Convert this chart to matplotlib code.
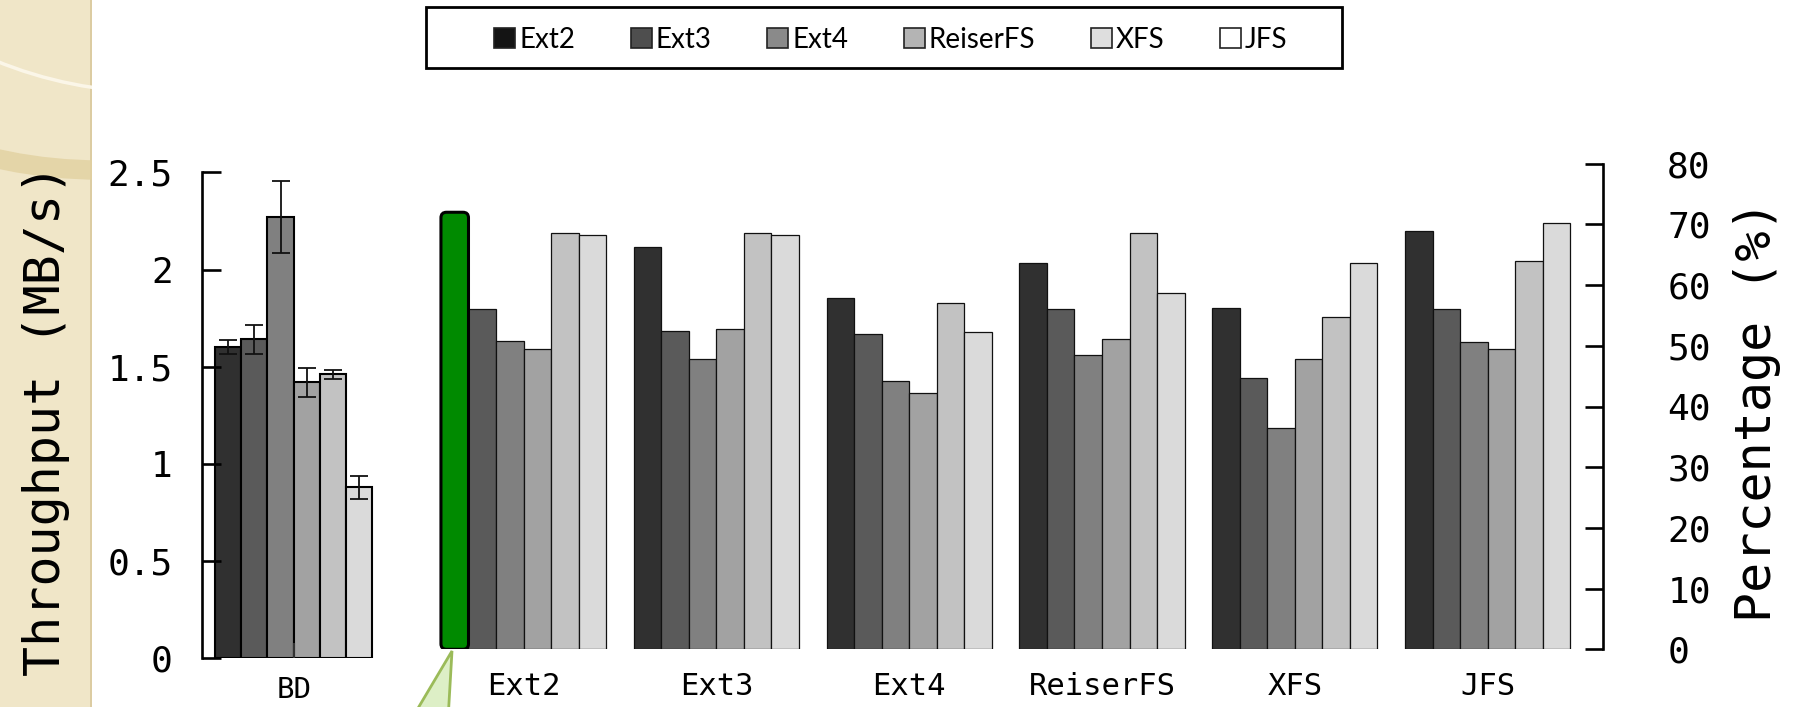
import matplotlib.pyplot as plt
from matplotlib.patches import Rectangle, Polygon, Ellipse, Patch, FancyBboxPatch

# ---------------------------------------------
# data
# ---------------------------------------------
fs_names = ['Ext2', 'Ext3', 'Ext4', 'ReiserFS', 'XFS', 'JFS']
groups = ['Ext2', 'Ext3', 'Ext4', 'ReiserFS', 'XFS', 'JFS']

# block device throughput (MB/s) with spread
bd_throughput = [1.60, 1.64, 2.27, 1.42, 1.46, 0.88]
bd_err = [0.035, 0.075, 0.185, 0.075, 0.024, 0.06]

# percentage per file system, one value per group
pct_ext2 = [72.0, 66.3, 57.9, 63.6, 56.3, 68.9]
pct_ext3 = [56.1, 52.5, 51.9, 56.1, 44.7, 56.1]
pct_ext4 = [50.8, 47.8, 44.2, 48.5, 36.5, 50.7]
pct_reiserfs = [49.4, 52.8, 42.2, 51.1, 47.9, 49.4]
pct_xfs = [68.6, 68.6, 57.1, 68.6, 54.8, 64.0]
pct_jfs = [68.3, 68.3, 52.3, 58.7, 63.6, 70.2]
pct_series = [pct_ext2, pct_ext3, pct_ext4, pct_reiserfs, pct_xfs, pct_jfs]

left_ticks = [0, 0.5, 1, 1.5, 2, 2.5]
left_ticklabels = ['0', '0.5', '1', '1.5', '2', '2.5']
right_ticks = [0, 10, 20, 30, 40, 50, 60, 70, 80]

bar_colors = ['#303030', '#5a5a5a', '#808080', '#a2a2a2', '#c2c2c2', '#dadada']
key_colors = ['#141414', '#4e4e4e', '#8a8a8a', '#b4b4b4', '#dedede', '#ffffff']

# ---------------------------------------------
# figure, pixel helpers
# ---------------------------------------------
W, H = 1811, 707
fig = plt.figure(figsize=(W / 100, H / 100), dpi=100)
fig.patch.set_facecolor('white')


def box(x0, y0, x1, y1):
    # pixel box (y down) -> figure fraction rect
    return [x0 / W, (H - y1) / H, (x1 - x0) / W, (y1 - y0) / H]


def pt(x, y):
    return (x / W, 1 - y / H)


mono = 'DejaVu Sans Mono'

# beige side strip with a couple of ring arcs (kept behind the axes)
strip = Rectangle((0, 0), 92 / W, 1, transform=fig.transFigure,
                  facecolor='#F0E6C8', edgecolor='none', zorder=-3)
fig.patches.append(strip)
fig.patches.append(Rectangle((90 / W, 0), 2 / W, 1, transform=fig.transFigure,
                             facecolor='#DCCCA2', edgecolor='none', zorder=-3))
band = Ellipse(pt(100, -305), 2 * 475 / W, 2 * 475 / H, transform=fig.transFigure,
               facecolor='none', edgecolor='#E2D1A0', lw=14, alpha=0.8, zorder=-2)
band.set_clip_path(strip)
fig.patches.append(band)
ring = Ellipse(pt(154, -325), 2 * 417 / W, 2 * 417 / H, transform=fig.transFigure,
               facecolor='none', edgecolor='#FBF6E8', lw=2.5, zorder=-2)
ring.set_clip_path(strip)
fig.patches.append(ring)

# ---------------------------------------------
# left panel: block device throughput
# ---------------------------------------------
ax1 = fig.add_axes(box(202, 172.3, 385.3, 658.3))
ax1.set_facecolor('none')
x_bd = [i + 0.5 for i in range(len(fs_names))]
ax1.bar(x_bd, bd_throughput, width=1.0, color=bar_colors,
        edgecolor='black', linewidth=1.5, zorder=1)
ax1.errorbar(x_bd, bd_throughput, yerr=bd_err, fmt='none', ecolor='#111111',
             elinewidth=1.3, capsize=6.5, capthick=1.3, zorder=3)
ax1.set_xlim(-0.5, 6.5)
ax1.set_ylim(0, 2.5)
for s in ['top', 'right', 'bottom']:
    ax1.spines[s].set_visible(False)
ax1.spines['left'].set_linewidth(1.9)
ax1.set_yticks(left_ticks)
ax1.set_yticklabels(left_ticklabels, fontfamily=mono, fontsize=26)
ax1.tick_params(axis='y', direction='in', length=13.5, width=1.9, pad=21)
ax1.set_xticks([3])
ax1.set_xticklabels(['BD'], fontfamily=mono, fontsize=21)
ax1.tick_params(axis='x', direction='in', length=11, width=1.5, color='#333333', pad=13)
ax1.set_ylabel('Throughput (MB/s)', fontfamily=mono, fontsize=36)
ax1.yaxis.set_label_coords(-0.72, 0.49)

# ---------------------------------------------
# right panel: percentage per group
# ---------------------------------------------
ax2 = fig.add_axes(box(413.4, 163.7, 1603.3, 649.3))
ax2.set_facecolor('none')
stride = len(fs_names) + 1
first_bar = None
for j, vals in enumerate(pct_series):
    xs = [stride * g + j + 0.5 for g in range(len(groups))]
    bars = ax2.bar(xs, vals, width=1.0, color=bar_colors[j],
                   edgecolor='#111111', linewidth=0.9, zorder=1)
    if j == 0:
        first_bar = bars[0]
ax2.set_xlim(-1, 42.2)
ax2.set_ylim(0, 80)

# highlighted bar (Ext2 on Ext2) with rounded corners
ppx = 1189.9 / 43.2
ppy = 485.6 / 80
first_bar.set_visible(False)
hl = FancyBboxPatch((first_bar.get_x(), 0), first_bar.get_width(), first_bar.get_height(),
                    boxstyle='round,pad=0,rounding_size=0.2', mutation_aspect=ppx / ppy,
                    facecolor='#008A00', edgecolor='black', linewidth=2.2, zorder=2)
ax2.add_patch(hl)

for s in ['top', 'left', 'bottom']:
    ax2.spines[s].set_visible(False)
ax2.spines['right'].set_linewidth(1.9)
ax2.yaxis.tick_right()
ax2.set_yticks(right_ticks)
ax2.set_yticklabels([str(t) for t in right_ticks], fontfamily=mono, fontsize=26)
ax2.tick_params(axis='y', direction='in', length=13, width=1.9, pad=46)
ax2.set_xticks([stride * g + 3 for g in range(len(groups))])
ax2.set_xticklabels(groups, fontfamily=mono, fontsize=22)
ax2.tick_params(axis='x', length=0, pad=16)
ax2.yaxis.set_label_position('right')
ax2.set_ylabel('Percentage (%)', fontfamily=mono, fontsize=36)
ax2.yaxis.set_label_coords(1.109, 0.49)

# ---------------------------------------------
# legend across the top
# ---------------------------------------------
handles = [Patch(facecolor=c, edgecolor='#222222', linewidth=1.2, label=n)
           for n, c in zip(fs_names, key_colors)]
fig.legend(handles=handles, loc='center', bbox_to_anchor=pt(891, 40), ncol=6,
           frameon=False, prop={'family': 'Lato', 'size': 20},
           handlelength=0.75, handleheight=0.72, handletextpad=0.15,
           columnspacing=2.0)
fig.patches.append(Rectangle(pt(426, 68), (1342 - 426) / W, 61 / H,
                             transform=fig.transFigure, facecolor='none',
                             edgecolor='black', linewidth=2))

# callout pointer under the highlighted bar
fig.patches.append(Polygon([pt(452, 651), pt(411, 720), pt(448, 720)], closed=True,
                           transform=fig.transFigure, facecolor='#DDEFC6',
                           edgecolor='#9BBB59', linewidth=2, zorder=5))

fig.savefig('out.png', dpi=100)
